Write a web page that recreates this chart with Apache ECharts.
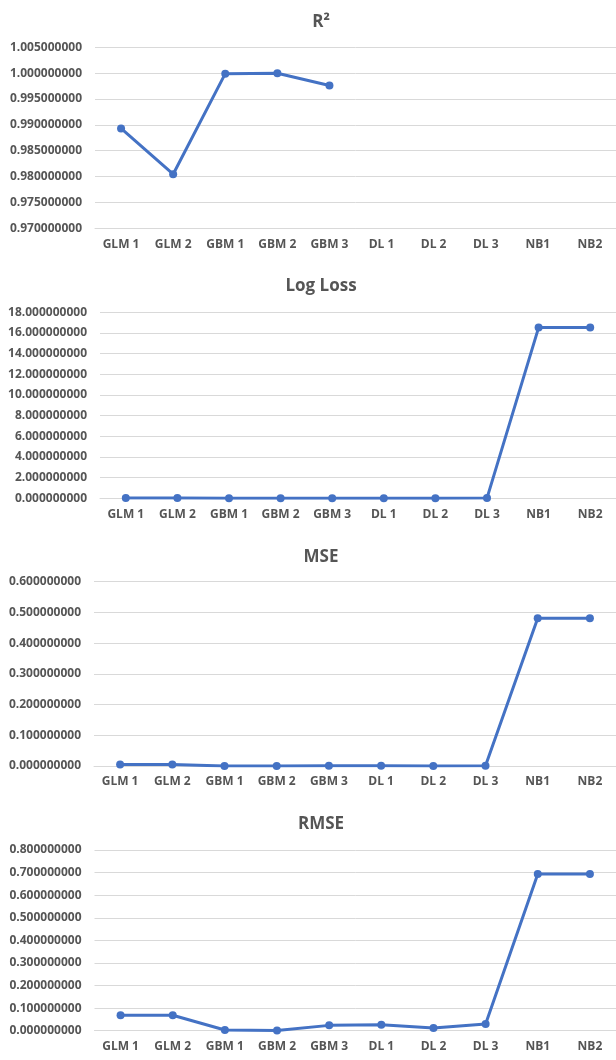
<!DOCTYPE html>
<html>
<head>
<meta charset="utf-8">
<script src="https://cdn.jsdelivr.net/npm/echarts@6/dist/echarts.min.js"></script>
<style>
html,body{margin:0;padding:0;background:#fff;}
#c{width:616px;height:1060px;}
</style>
</head>
<body>
<div id="c"></div>
<script>
const categories = ['GLM 1','GLM 2','GBM 1','GBM 2','GBM 3','DL 1','DL 2','DL 3','NB1','NB2'];
const titles = ['R\u00B2','Log Loss','MSE','RMSE'];
const r2Values = [0.98930, 0.98046, 0.99990, 0.99998, 0.99762, null, null, null, null, null];
const logLossValues = [0.02, 0.02, 0.005, 0.002, 0.01, 0.01, 0.005, 0.02, 16.52, 16.52];
const mseValues = [0.0047, 0.0047, 0.00001, 0.000001, 0.00056, 0.0007, 0.00014, 0.00087, 0.4812, 0.4812];
const rmseValues = [0.0684, 0.0684, 0.0030, 0.0010, 0.0236, 0.0265, 0.0118, 0.0295, 0.6937, 0.6937];
const yMin = [0.970, 0, 0, 0];
const yMax = [1.005, 18, 0.6, 0.8];
const yInterval = [0.005, 2, 0.1, 0.1];

const seriesData = [r2Values, logLossValues, mseValues, rmseValues];
const grids = [
  {left: 95, top: 47.3, height: 181, right: -3},
  {left: 100, top: 312.3, height: 186, right: -3},
  {left: 94, top: 581.7, height: 184.3, right: -3},
  {left: 94.5, top: 850, height: 180.7, right: -3}
];
const titleCenters = [21, 285, 556, 823];

const gray = '#555555';
const labelFont = {fontFamily: 'Open Sans', fontSize: 12, fontWeight: 'bold', color: gray};

const chart = echarts.init(document.getElementById('c'), null, {renderer: 'canvas'});
const option = {
  backgroundColor: '#ffffff',
  animation: false,
  title: titles.map((t, i) => ({
    text: t,
    left: 316,
    textAlign: 'center',
    top: titleCenters[i] - 12,
    textStyle: {fontFamily: 'Open Sans', fontSize: 17, fontWeight: 'bold', color: gray}
  })),
  grid: grids.map(g => Object.assign({containLabel: false}, g)),
  xAxis: grids.map((g, i) => ({
    type: 'category',
    gridIndex: i,
    data: categories,
    boundaryGap: true,
    axisLine: {show: true, lineStyle: {color: '#d9d9d9', width: 1}},
    axisTick: {show: false},
    axisLabel: Object.assign({margin: 10, interval: 0}, labelFont),
    splitLine: {show: false}
  })),
  yAxis: grids.map((g, i) => ({
    type: 'value',
    gridIndex: i,
    min: yMin[i],
    max: yMax[i],
    interval: yInterval[i],
    axisLine: {show: false},
    axisTick: {show: false},
    axisLabel: Object.assign({margin: 13, formatter: v => v.toFixed(9)}, labelFont),
    splitLine: {show: true, lineStyle: {color: '#d9d9d9', width: 1}}
  })),
  series: seriesData.map((d, i) => ({
    type: 'line',
    xAxisIndex: i,
    yAxisIndex: i,
    data: d,
    symbol: 'circle',
    symbolSize: 8,
    connectNulls: false,
    lineStyle: {color: '#4472C4', width: 3},
    itemStyle: {color: '#4472C4'}
  }))
};
chart.setOption(option);
</script>
</body>
</html>
